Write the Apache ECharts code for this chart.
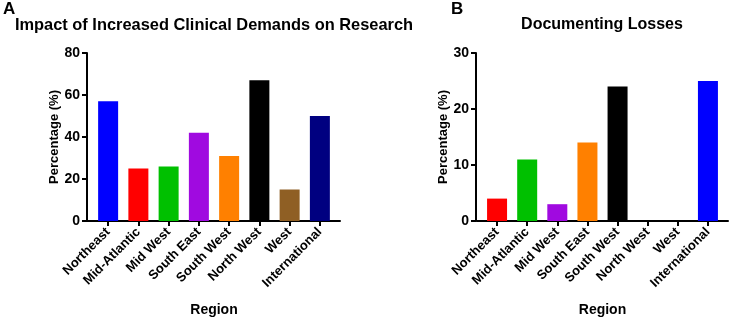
<!DOCTYPE html>
<html>
<head>
<meta charset="utf-8">
<script src="https://cdn.jsdelivr.net/npm/echarts@6/dist/echarts.min.js"></script>
<style>
  html, body { margin: 0; padding: 0; background: #fff; }
  #chart { width: 730px; height: 317px; }
</style>
</head>
<body>
<div id="chart"></div>
<script>
// data
var regions = ['Northeast', 'Mid-Atlantic', 'Mid West', 'South East', 'South West', 'North West', 'West', 'International'];

var clinicalValues = [57, 25, 26, 42, 31, 67, 15, 50];
var clinicalColors = ['#0000ff', '#ff0000', '#00c000', '#a00ae0', '#ff8000', '#000000', '#8f5f24', '#000080'];
var clinicalMax = 80;

var lossValues = [4, 11, 3, 14, 24, 0, 0, 25];
var lossColors = ['#ff0000', '#00c000', '#a00ae0', '#ff8000', '#000000', '#000000', '#000000', '#0000ff'];
var lossMax = 30;

var FONT = "'Liberation Sans', Arial, sans-serif";

function barData(values, colors) {
  return values.map(function (v, i) {
    return { value: v, itemStyle: { color: colors[i] } };
  });
}

// axis pieces shared by both panels
var axisLine = { show: true, lineStyle: { color: '#000', width: 2 } };
var axisTick = { show: true, length: 5, lineStyle: { color: '#000', width: 2 } };

function catAxis(gridIndex) {
  return {
    type: 'category', gridIndex: gridIndex, data: regions,
    axisLine: axisLine,
    axisTick: { show: true, alignWithLabel: true, length: 5, lineStyle: { color: '#000', width: 2 } },
    axisLabel: {
      rotate: 45, interval: 0, margin: 9, color: '#000',
      fontFamily: FONT, fontSize: 13, fontWeight: 'bold'
    },
    name: 'Region', nameLocation: 'middle', nameGap: 82,
    nameTextStyle: { fontFamily: FONT, fontSize: 14, fontWeight: 'bold', color: '#000' }
  };
}

function valAxis(gridIndex, max, interval) {
  return {
    type: 'value', gridIndex: gridIndex, min: 0, max: max, interval: interval, offset: 6,
    axisLine: axisLine, axisTick: axisTick, splitLine: { show: false },
    axisLabel: { color: '#000', fontFamily: FONT, fontSize: 14, fontWeight: 'bold', margin: 7 },
    name: 'Percentage (%)', nameLocation: 'middle', nameGap: 24,
    nameTextStyle: { fontFamily: FONT, fontSize: 13, fontWeight: 'bold', color: '#000' }
  };
}

// plain x axis lines that run up to the offset y axes
function baseLine(gridIndex) {
  return {
    type: 'value', gridIndex: gridIndex, min: 0, max: 1,
    axisLine: axisLine, axisTick: { show: false }, axisLabel: { show: false }, splitLine: { show: false }
  };
}
function hiddenY(gridIndex) {
  return { type: 'value', gridIndex: gridIndex, min: 0, max: 1, show: false };
}

var option = {
  animation: false,
  grid: [
    { left: 93, top: 53, width: 242, height: 168, outerBoundsMode: 'none' },
    { left: 482, top: 53, width: 241, height: 168, outerBoundsMode: 'none' },
    { left: 87, top: 53, width: 253, height: 168, outerBoundsMode: 'none' },
    { left: 477, top: 53, width: 251, height: 168, outerBoundsMode: 'none' }
  ],
  xAxis: [catAxis(0), catAxis(1), baseLine(2), baseLine(3)],
  yAxis: [valAxis(0, clinicalMax, 20), valAxis(1, lossMax, 10), hiddenY(2), hiddenY(3)],
  series: [
    { type: 'bar', xAxisIndex: 0, yAxisIndex: 0, barWidth: 20, data: barData(clinicalValues, clinicalColors), z: 3 },
    { type: 'bar', xAxisIndex: 1, yAxisIndex: 1, barWidth: 20, data: barData(lossValues, lossColors), z: 3 }
  ],
  graphic: [
    { type: 'text', left: 3, top: 1, style: { text: 'A', fontFamily: FONT, fontSize: 17, fontWeight: 'bold', fill: '#000' } },
    { type: 'text', left: 451, top: 1, style: { text: 'B', fontFamily: FONT, fontSize: 17, fontWeight: 'bold', fill: '#000' } },
    { type: 'text', x: 214, y: 25, style: { text: 'Impact of Increased Clinical Demands on Research', align: 'center', verticalAlign: 'middle', fontFamily: FONT, fontSize: 16.4, fontWeight: 'bold', fill: '#000' } },
    { type: 'text', x: 602, y: 25, style: { text: 'Documenting Losses', align: 'center', verticalAlign: 'middle', fontFamily: FONT, fontSize: 16, fontWeight: 'bold', fill: '#000' } }
  ]
};

var myChart = echarts.init(document.getElementById('chart'), null, { renderer: 'canvas' });
myChart.setOption(option);
</script>
</body>
</html>
